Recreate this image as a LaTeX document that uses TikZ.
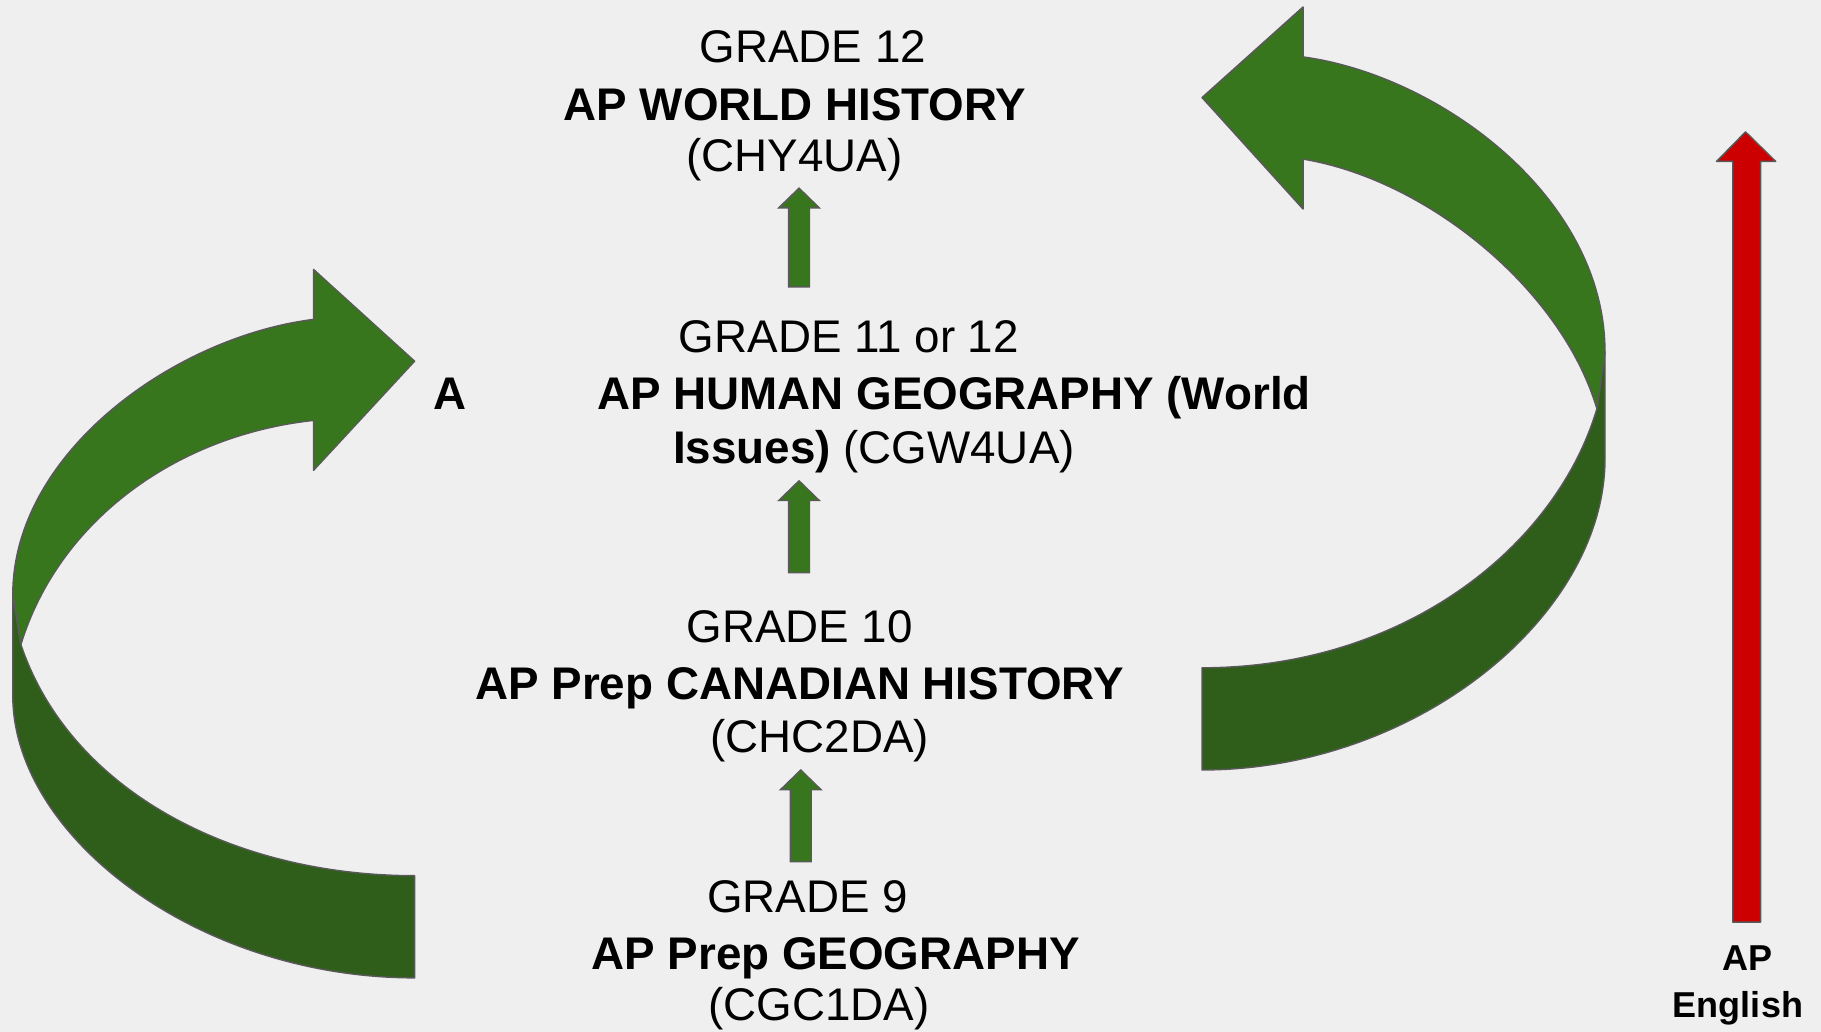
\documentclass[tikz,border=0pt]{standalone}
\usepackage{fontspec}
\setmainfont{Liberation Sans}
\definecolor{bgc}{HTML}{EFEFEF}
\definecolor{lgreen}{HTML}{38761D}
\definecolor{dgreen}{HTML}{2F5E1A}
\definecolor{redc}{HTML}{CC0000}
\definecolor{edge}{HTML}{595959}
\newcommand\upblock[4]{% x, ybottom, yheadbase, ytip
  \fill[lgreen,draw=edge,line width=0.6pt]
    (#1-9,#2) -- (#1-9,#3) -- (#1-17.5,#3) -- (#1,#4) -- (#1+17.5,#3) -- (#1+9,#3) -- (#1+9,#2) -- cycle;}
\begin{document}
\begin{tikzpicture}[x=0.5pt,y=-0.5pt,
  txt/.style={anchor=base,inner sep=0pt,font=\fontsize{19.7}{23}\selectfont},
  small/.style={anchor=base,inner sep=0pt,font=\fontsize{15.5}{19}\selectfont\bfseries},
  band/.style={draw=edge,line width=0.6pt,line join=round}]
\useasboundingbox (0,0) rectangle (1568,888.6);
\fill[bgc] (0,0) rectangle (1568,888.6);

% left curved arrow
\fill[dgreen,band] (11,512) -- (11,599) .. controls (11,720) and (170,842) .. (357,842)
  -- (357,754) .. controls (200,754) and (60,680) .. (18,555) -- cycle;
\fill[lgreen,band] (11,512) .. controls (11,390) and (150,290) .. (270,275)
  -- (270,232) -- (357,311) -- (270,405) -- (270,362)
  .. controls (150,375) and (50,450) .. (18,555) -- cycle;

% right curved arrow
\fill[dgreen,band] (1382,303) -- (1382,395) .. controls (1382,530) and (1220,663) .. (1035,663)
  -- (1035,575) .. controls (1210,575) and (1340,470) .. (1375,352) -- cycle;
\fill[lgreen,band] (1382,303) .. controls (1382,170) and (1240,65) .. (1122,49)
  -- (1122,6) -- (1035,84) -- (1122,180) -- (1122,137)
  .. controls (1230,155) and (1345,250) .. (1375,352) -- cycle;

% red arrow
\fill[redc,band] (1492,794) -- (1492,139) -- (1478,139) -- (1503,113.5) -- (1529,139)
  -- (1516,139) -- (1516,794) -- cycle;

% small green arrows
\upblock{688}{247}{179}{162}
\upblock{688}{493}{431}{414}
\upblock{689.5}{742}{680}{663}

% texts
\node[txt] (g12) at (700,54) {GRADE 12};
\node[txt] (wh) at (684.5,103.5) {\bfseries AP WORLD HISTORY};
\node[txt] (chy) at (684,148) {(CHY4UA)};
\node[txt] (g11) at (731,303.8) {GRADE 11 or 12};
\node[txt] (a) at (387.5,352.5) {\bfseries A};
\node[txt] (hg) at (821.5,352.5) {\bfseries AP HUMAN GEOGRAPHY (World};
\node[txt] (iss) at (752.5,399) {\textbf{Issues)} (CGW4UA)};
\node[txt] (g10) at (688.5,553.5) {GRADE 10};
\node[txt] (ch) at (688.5,602) {\bfseries AP Prep CANADIAN HISTORY};
\node[txt] (chc) at (706,648) {(CHC2DA)};
\node[txt] (g9) at (695.5,786) {GRADE 9};
\node[txt] (geo) at (719.5,834.6) {\bfseries AP Prep GEOGRAPHY};
\node[txt] (cgc) at (705,879) {(CGC1DA)};
\node[small] (ap) at (1504.5,836) {AP};
\node[small] (eng) at (1496.5,875.7) {English};
\end{tikzpicture}
\end{document}
